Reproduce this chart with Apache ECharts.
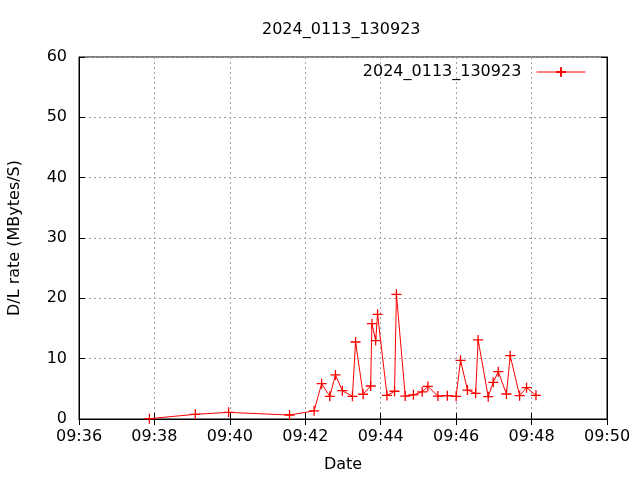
<!DOCTYPE html>
<html><head><meta charset="utf-8">
<script src="https://cdn.jsdelivr.net/npm/echarts@6/dist/echarts.min.js"></script>
<style>html,body{margin:0;padding:0;background:#fff}#c{width:640px;height:480px}</style>
</head><body><div id="c"></div>
<script>
var title = "2024_0113_130923";
var seriesName = "2024_0113_130923";
var xTickMin = 36, xTickMax = 50, xTickStep = 2;
var yTickMin = 0, yTickMax = 60, yTickStep = 10;
var times = ["09:37:52","09:39:05","09:39:58","09:41:35","09:42:14","09:42:26","09:42:39","09:42:48","09:42:59","09:43:15",
  "09:43:20","09:43:32","09:43:44","09:43:46","09:43:52","09:43:55","09:44:10","09:44:22","09:44:25","09:44:39",
  "09:44:52","09:45:06","09:45:15","09:45:31","09:45:46","09:46:00","09:46:07","09:46:18","09:46:31","09:46:35",
  "09:46:51","09:46:59","09:47:07","09:47:20","09:47:26","09:47:41","09:47:52","09:48:07"];
var rates = [0.05,0.78,1.1,0.66,1.35,5.85,3.76,7.3,4.7,3.76,
  12.76,4.1,5.47,15.8,13.0,17.35,3.9,4.6,20.67,3.8,
  4.0,4.5,5.4,3.8,3.87,3.76,9.72,4.8,4.26,13.1,
  3.7,6.08,7.85,4.14,10.5,3.87,5.2,3.93];

function toMin(s){var p=s.split(':');return (+p[1])+(+p[2])/60;}
var data = times.map(function(t,i){return [toMin(t), rates[i]];});

var font = 'DejaVu Sans';
var gridLine = {show:true, lineStyle:{color:'#a0a0a0', type:[2,3], width:1}};
var chart = echarts.init(document.getElementById('c'), null, {renderer:'canvas'});
chart.setOption({
  animation:false,
  backgroundColor:'#fff',
  title:{text:title, left:257, top:17, textStyle:{fontFamily:font, fontSize:16, fontWeight:'normal', color:'#000'}},
  legend:{right:49, top:59, orient:'vertical', align:'right', itemWidth:49, itemHeight:12, itemGap:6,
    lineStyle:{width:1},
    formatter:function(n){return n+'  ';},
    textStyle:{fontFamily:font, fontSize:16, color:'#000'}, data:[seriesName]},
  grid:{left:79, right:33, top:57, bottom:61, containLabel:false, outerBoundsMode:'none',
    show:true, borderColor:'#000', borderWidth:1, backgroundColor:'transparent'},
  xAxis:[{
    type:'value', min:xTickMin, max:xTickMax, interval:xTickStep,
    name:'Date', nameLocation:'middle', nameGap:38,
    nameTextStyle:{fontFamily:font, fontSize:16, color:'#000'},
    axisLine:{show:true, lineStyle:{color:'#000'}},
    axisTick:{show:true, inside:true, length:6, lineStyle:{color:'#000'}},
    axisLabel:{fontFamily:font, fontSize:16, color:'#000', margin:10,
      formatter:function(v){return '09:'+(v<10?'0':'')+v;}},
    splitLine:gridLine
  },{
    type:'value', position:'top', min:xTickMin, max:xTickMax, interval:xTickStep,
    axisLine:{show:true, lineStyle:{color:'#000'}},
    axisTick:{show:true, inside:true, length:6, lineStyle:{color:'#000'}},
    axisLabel:{show:false}, splitLine:{show:false}
  }],
  yAxis:[{
    type:'value', min:yTickMin, max:yTickMax, interval:yTickStep,
    name:'D/L rate (MBytes/S)', nameLocation:'middle', nameGap:56,
    nameTextStyle:{fontFamily:font, fontSize:16, color:'#000'},
    axisLine:{show:true, lineStyle:{color:'#000'}},
    axisTick:{show:true, inside:true, length:6, lineStyle:{color:'#000'}},
    axisLabel:{fontFamily:font, fontSize:16, color:'#000', margin:12},
    splitLine:gridLine
  },{
    type:'value', position:'right', min:yTickMin, max:yTickMax, interval:yTickStep,
    axisLine:{show:true, lineStyle:{color:'#000'}},
    axisTick:{show:true, inside:true, length:6, lineStyle:{color:'#000'}},
    axisLabel:{show:false}, splitLine:{show:false}
  }],
  series:[{
    name:seriesName, type:'line', data:data, xAxisIndex:0, yAxisIndex:0,
    symbol:'path://M0,5L10,5M5,0L5,10', symbolSize:10, showSymbol:true,
    lineStyle:{color:'#ff0000', width:1},
    itemStyle:{color:'#ff0000', borderColor:'#ff0000', borderWidth:1.3},
    emphasis:{disabled:true}
  }]
});
</script></body></html>
